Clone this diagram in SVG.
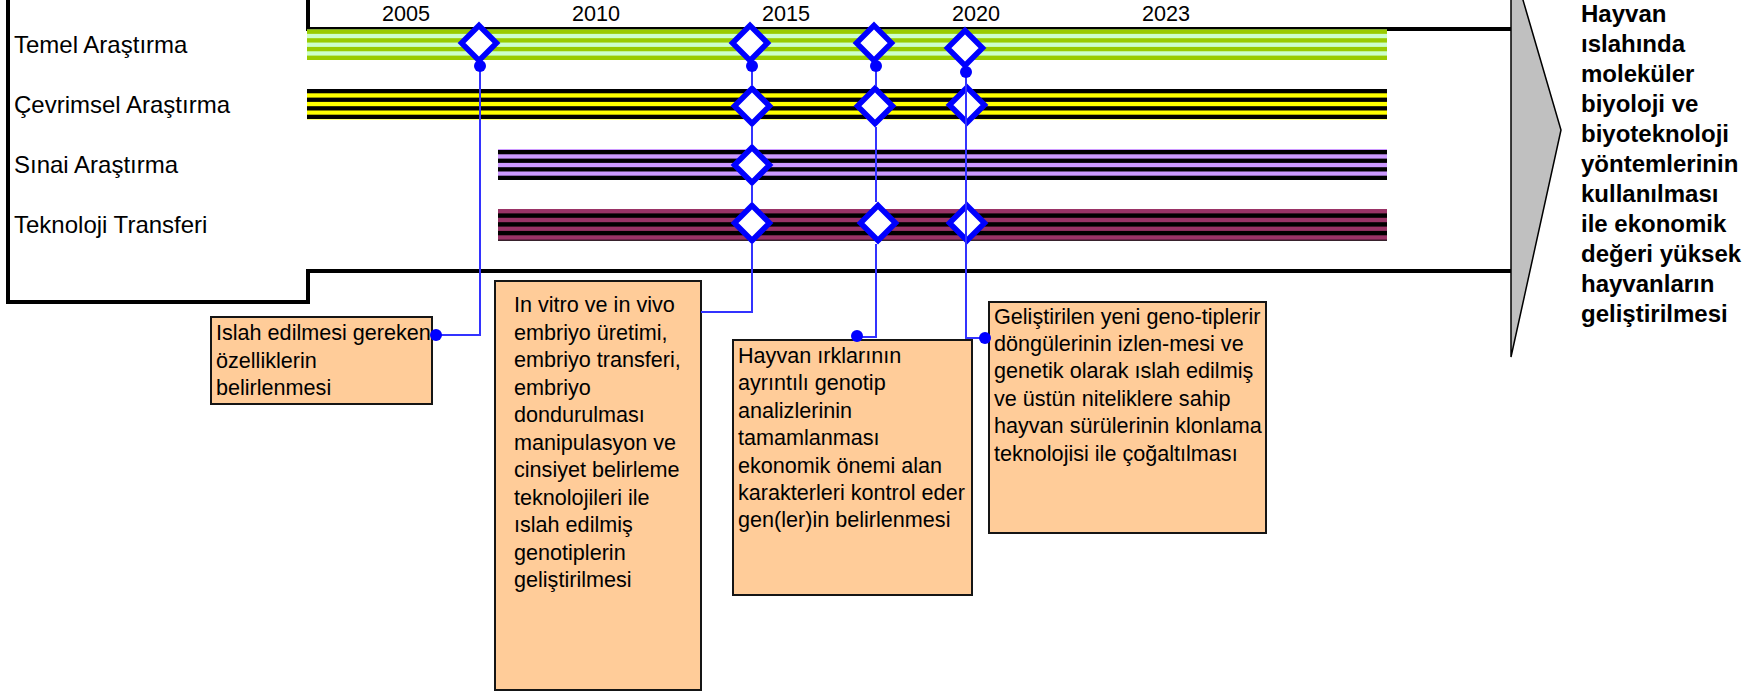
<svg xmlns="http://www.w3.org/2000/svg" width="1753" height="693" viewBox="0 0 1753 693">
  <defs>
    <style>
      text { font-family: "Liberation Sans", Arial, sans-serif; fill: #000; }
      .lane { font-size: 24px; }
      .year { font-size: 21.6px; text-anchor: middle; }
      .goal { font-size: 24px; font-weight: bold; }
      .note { font-size: 21.6px; }
      .frame { fill: none; stroke: #000; stroke-width: 4; }
      .box { fill: #ffcc99; stroke: #151515; stroke-width: 2; }
      .ms { fill: #fff; stroke: #0000ff; stroke-width: 5.5; stroke-linejoin: miter; }
      .link { fill: none; stroke: #3333ff; stroke-width: 2; }
      .dot { fill: #0000ff; }
      .k { fill: #000; }
    </style>
    <path id="diamond" d="M0,-17.5 L17.5,0 L0,17.5 L-17.5,0 Z"/>
  </defs>

  <!-- outer frame of the timeline -->
  <g id="frame">
    <polyline class="frame" points="8,-5 8,302 308,302 308,271 1511,271"/>
    <polyline class="frame" points="308,-5 308,29 1511,29"/>
    <polygon points="1511,-41 1561,130 1511,357" fill="#c0c0c0" stroke="#000" stroke-width="1.5"/>
  </g>

  <!-- year scale -->
  <g id="years">
    <text class="year" x="406" y="21">2005</text>
    <text class="year" x="596" y="21">2010</text>
    <text class="year" x="786" y="21">2015</text>
    <text class="year" x="976" y="21">2020</text>
    <text class="year" x="1166" y="21">2023</text>
  </g>

  <!-- lane titles -->
  <g id="lane-labels">
    <text class="lane" x="14" y="53">Temel Araştırma</text>
    <text class="lane" x="14" y="113">Çevrimsel Araştırma</text>
    <text class="lane" x="14" y="173">Sınai Araştırma</text>
    <text class="lane" x="14" y="233">Teknoloji Transferi</text>
  </g>

  <!-- striped lane bars -->
  <g id="bar-temel">
    <rect x="307" y="29.5" width="1080" height="30.5" fill="#ccffcc"/>
    <rect x="307" y="29.5" width="1080" height="4.36" fill="#99cc00"/>
    <rect x="307" y="38.2" width="1080" height="4.36" fill="#99cc00"/>
    <rect x="307" y="46.9" width="1080" height="4.36" fill="#99cc00"/>
    <rect x="307" y="55.6" width="1080" height="4.4" fill="#99cc00"/>
  </g>
  <g id="bar-cevrimsel">
    <rect x="307" y="89" width="1080" height="30.5" fill="#ffff00"/>
    <rect class="k" x="307" y="89" width="1080" height="4.29"/>
    <rect class="k" x="307" y="97.6" width="1080" height="4.29"/>
    <rect class="k" x="307" y="106.2" width="1080" height="4.29"/>
    <rect class="k" x="307" y="114.7" width="1080" height="4.29"/>
  </g>
  <g id="bar-sinai">
    <rect x="498" y="149" width="889" height="31" fill="#cc99ff"/>
    <rect class="k" x="498" y="150" width="889" height="4.29"/>
    <rect class="k" x="498" y="158.6" width="889" height="4.29"/>
    <rect class="k" x="498" y="167.2" width="889" height="4.29"/>
    <rect class="k" x="498" y="175.7" width="889" height="4.29"/>
  </g>
  <g id="bar-teknoloji">
    <rect x="498" y="209" width="889" height="31.7" fill="#993366"/>
    <rect class="k" x="498" y="213.4" width="889" height="4.39"/>
    <rect class="k" x="498" y="222.2" width="889" height="4.39"/>
    <rect class="k" x="498" y="230.9" width="889" height="4.39"/>
    <rect class="k" x="498" y="239.7" width="889" height="1"/>
  </g>

  <!-- milestones -->
  <g id="milestones">
    <use href="#diamond" class="ms" x="479" y="43"/>
    <use href="#diamond" class="ms" x="750" y="43"/>
    <use href="#diamond" class="ms" x="874" y="43"/>
    <use href="#diamond" class="ms" x="965" y="48"/>
    <use href="#diamond" class="ms" x="752" y="106"/>
    <use href="#diamond" class="ms" x="875" y="106"/>
    <use href="#diamond" class="ms" x="967" y="105"/>
    <use href="#diamond" class="ms" x="752" y="165"/>
    <use href="#diamond" class="ms" x="752" y="223"/>
    <use href="#diamond" class="ms" x="878" y="223"/>
    <use href="#diamond" class="ms" x="967" y="223"/>
  </g>

  <!-- goal statement -->
  <g id="goal">
    <text class="goal" x="1581" y="22">Hayvan</text>
    <text class="goal" x="1581" y="52">ıslahında</text>
    <text class="goal" x="1581" y="82">moleküler</text>
    <text class="goal" x="1581" y="112">biyoloji ve</text>
    <text class="goal" x="1581" y="142">biyoteknoloji</text>
    <text class="goal" x="1581" y="172">yöntemlerinin</text>
    <text class="goal" x="1581" y="202">kullanılması</text>
    <text class="goal" x="1581" y="232">ile ekonomik</text>
    <text class="goal" x="1581" y="262">değeri yüksek</text>
    <text class="goal" x="1581" y="292">hayvanların</text>
    <text class="goal" x="1581" y="322">geliştirilmesi</text>
  </g>

  <!-- callout boxes -->
  <g id="note-1">
    <rect class="box" x="211" y="317" width="221" height="87"/>
    <text class="note" x="216" y="340">Islah edilmesi gereken</text>
    <text class="note" x="216" y="367.5">özelliklerin</text>
    <text class="note" x="216" y="395">belirlenmesi</text>
  </g>
  <g id="note-2">
    <rect class="box" x="495" y="281" width="206" height="409"/>
    <text class="note" x="514" y="312">In vitro ve in vivo</text>
    <text class="note" x="514" y="339.5">embriyo üretimi,</text>
    <text class="note" x="514" y="367">embriyo transferi,</text>
    <text class="note" x="514" y="394.5">embriyo</text>
    <text class="note" x="514" y="422">dondurulması</text>
    <text class="note" x="514" y="449.5">manipulasyon ve</text>
    <text class="note" x="514" y="477">cinsiyet belirleme</text>
    <text class="note" x="514" y="504.5">teknolojileri ile</text>
    <text class="note" x="514" y="532">ıslah edilmiş</text>
    <text class="note" x="514" y="559.5">genotiplerin</text>
    <text class="note" x="514" y="587">geliştirilmesi</text>
  </g>
  <g id="note-3">
    <rect class="box" x="733" y="340" width="239" height="255"/>
    <text class="note" x="738" y="363">Hayvan ırklarının</text>
    <text class="note" x="738" y="390.4">ayrıntılı genotip</text>
    <text class="note" x="738" y="417.8">analizlerinin</text>
    <text class="note" x="738" y="445.2">tamamlanması</text>
    <text class="note" x="738" y="472.6">ekonomik önemi alan</text>
    <text class="note" x="738" y="500">karakterleri kontrol eder</text>
    <text class="note" x="738" y="527.4">gen(ler)in belirlenmesi</text>
  </g>
  <g id="note-4">
    <rect class="box" x="989" y="302" width="277" height="231"/>
    <text class="note" x="994" y="323.5">Geliştirilen yeni geno-tiplerir</text>
    <text class="note" x="994" y="350.9">döngülerinin izlen-mesi ve</text>
    <text class="note" x="994" y="378.3">genetik olarak ıslah edilmiş</text>
    <text class="note" x="994" y="405.7">ve üstün niteliklere sahip</text>
    <text class="note" x="994" y="433.1">hayvan sürülerinin klonlama</text>
    <text class="note" x="994" y="460.5">teknolojisi ile çoğaltılması</text>
  </g>

  <!-- connectors from milestones to callouts -->
  <g id="connectors">
    <path class="link" d="M480,66 V335 H436"/>
    <path class="link" d="M752,66 V86 M752,127 V144 M752,186 V202 M752,244 V312 H701"/>
    <path class="link" d="M876,66 V86 M876,127 V202 M876,244 V337 H857"/>
    <path class="link" d="M966,72 V338 H985"/>
    <circle class="dot" cx="480" cy="66" r="6"/>
    <circle class="dot" cx="436" cy="335" r="6"/>
    <circle class="dot" cx="752" cy="66" r="6"/>
    <circle class="dot" cx="876" cy="66" r="6"/>
    <circle class="dot" cx="857" cy="336" r="6"/>
    <circle class="dot" cx="966" cy="72" r="6"/>
    <circle class="dot" cx="985" cy="338" r="6"/>
  </g>
</svg>
